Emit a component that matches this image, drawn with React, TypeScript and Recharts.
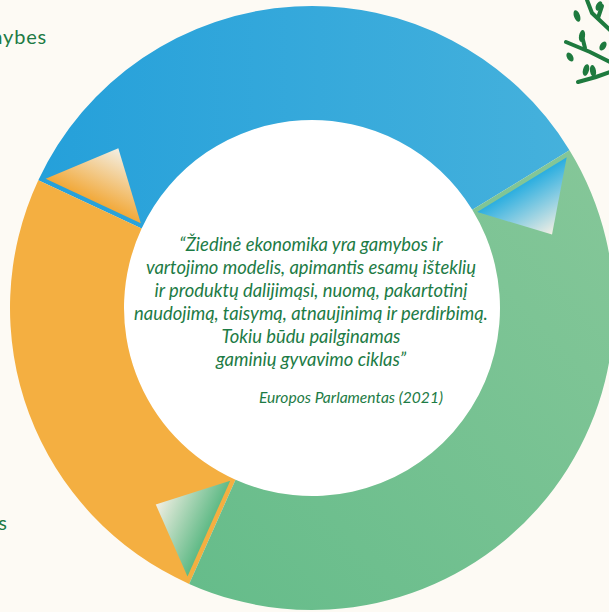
import React from 'react'
import { PieChart, Pie, Cell } from 'recharts'

// Trys žiedo dalys (laipsniais, pagal paveikslėlį)
const segmentNames = ['Gamyba', 'Vartojimas', 'Perdirbimas']
const segmentValues = [123.5, 91, 145.5]
const segmentFills = ['url(#gBlue)', '#F4AF41', 'url(#gGreen)']
// rodyklė dalies gale nudažyta kitos dalies spalva
const arrowColors = ['#F2A93A', '#5FBA86', '#2BAEE0']

const quoteLines = [
  '“Žiedinė ekonomika yra gamybos ir',
  'vartojimo modelis, apimantis esamų išteklių',
  'ir produktų dalijimąsi, nuomą, pakartotinį',
  'naudojimą, taisymą, atnaujinimą ir perdirbimą.',
  'Tokiu būdu pailginamas',
  'gaminių gyvavimo ciklas”',
]
const sourceLine = 'Europos Parlamentas (2021)'
const sideLabels = ['galimybes', 'procesas']

const W = 609
const H = 612
const CX = 312
const CY = 308
const R_IN = 188
const R_OUT = 302
const GREEN_TEXT = '#1D7B45'

const data = segmentNames.map((name, i) => ({ name, value: segmentValues[i] }))

const RAD = Math.PI / 180

// rodyklės trikampis prie kiekvienos dalies pabaigos
const renderArrow = (props: any) => {
  const { cx, cy, endAngle, innerRadius, outerRadius, index } = props
  if (endAngle === undefined) return null
  const b = endAngle * RAD
  const ux = Math.cos(b)
  const uy = -Math.sin(b)
  // statmuo atgal (mažėjančio kampo kryptimi)
  const nx = Math.sin(b)
  const ny = Math.cos(b)
  const d = 4.5
  const r1 = innerRadius + 3
  const r2 = outerRadius - 6
  const rm = (innerRadius + outerRadius) / 2 + 6
  const a = (endAngle - 14.5) * RAD
  const p1 = [cx + r1 * ux + d * nx, cy + r1 * uy + d * ny]
  const p2 = [cx + r2 * ux + d * nx, cy + r2 * uy + d * ny]
  const p3 = [cx + rm * Math.cos(a), cy - rm * Math.sin(a)]
  const mid = [(p1[0] + p2[0]) / 2, (p1[1] + p2[1]) / 2]
  const id = `arrowGrad${index}`
  return (
    <g key={id}>
      <defs>
        <linearGradient id={id} gradientUnits="userSpaceOnUse"
          x1={mid[0]} y1={mid[1]} x2={p3[0]} y2={p3[1]}>
          <stop offset="0%" stopColor={arrowColors[index]} />
          <stop offset="100%" stopColor="#F3EFE4" />
        </linearGradient>
      </defs>
      <polygon
        points={[p1, p2, p3].map(p => p.join(',')).join(' ')}
        fill={`url(#${id})`}
      />
    </g>
  )
}

export default function App() {
  return (
    <div style={{ position: 'absolute', left: 0, top: 0, width: W, height: H, background: '#FDFAF4', overflow: 'hidden' }}>
      <svg width={0} height={0} style={{ position: 'absolute' }}>
        <defs>
          <linearGradient id="gBlue" x1="0" y1="0" x2="1" y2="0">
            <stop offset="0%" stopColor="#25A0DA" />
            <stop offset="100%" stopColor="#45B1DC" />
          </linearGradient>
          <linearGradient id="gGreen" x1="1" y1="0" x2="0" y2="1">
            <stop offset="0%" stopColor="#86C799" />
            <stop offset="100%" stopColor="#65BC8A" />
          </linearGradient>
        </defs>
      </svg>

      <PieChart width={W} height={H} margin={{ top: 0, right: 0, bottom: 0, left: 0 }}>
        <Pie
          data={[{ name: 'centras', value: 1 }]}
          dataKey="value"
          cx={CX}
          cy={CY}
          innerRadius={0}
          outerRadius={R_IN}
          fill="#FFFFFF"
          stroke="none"
          isAnimationActive={false}
        />
        <Pie
          data={data}
          dataKey="value"
          cx={CX}
          cy={CY}
          startAngle={31.5}
          endAngle={391.5}
          innerRadius={R_IN}
          outerRadius={R_OUT}
          stroke="none"
          labelLine={false}
          label={renderArrow}
          isAnimationActive={false}
        >
          {data.map((d, i) => (
            <Cell key={d.name} fill={segmentFills[i]} />
          ))}
        </Pie>
      </PieChart>

      <svg width={W} height={H} style={{ position: 'absolute', left: 0, top: 0, pointerEvents: 'none' }}>
        <g fontFamily="Lato, 'Open Sans', sans-serif" fontStyle="italic" fill={GREEN_TEXT} textAnchor="middle">
          {quoteLines.map((line, i) => (
            <text key={i} x={311} y={251 + i * 23} fontSize={18.4}>{line}</text>
          ))}
          <text x={351} y={403} fontSize={15.6}>{sourceLine}</text>
        </g>
        <g fontFamily="Lato, 'Open Sans', sans-serif" fill={GREEN_TEXT} fontSize={20} textAnchor="end">
          <text x={47} y={44} letterSpacing={0.8}>{sideLabels[0]}</text>
          <text x={7} y={530}>{sideLabels[1]}</text>
        </g>
        {/* medžio logotipas */}
        <g stroke="#1E7A3E" strokeWidth={4} fill="none" strokeLinecap="round">
          <path d="M587,0 L592,13 L610,30" />
          <path d="M566,42 L590,52 L610,62" />
          <path d="M578,82 L596,77 L610,72" />
          <path d="M598,18 L602,6" />
          <path d="M585,48 L582,36" />
        </g>
        <g fill="#1E7A3E">
          <ellipse cx={577} cy={16} rx={3} ry={6} transform="rotate(-20 577 16)" />
          <ellipse cx={599} cy={6} rx={3} ry={5} transform="rotate(25 599 6)" />
          <ellipse cx={582} cy={36} rx={3} ry={6} transform="rotate(10 582 36)" />
          <ellipse cx={570} cy={57} rx={3} ry={5} transform="rotate(-30 570 57)" />
          <ellipse cx={586} cy={70} rx={3} ry={6} transform="rotate(15 586 70)" />
          <ellipse cx={593} cy={71} rx={3} ry={6} transform="rotate(-10 593 71)" />
          <ellipse cx={603} cy={46} rx={3} ry={5} transform="rotate(30 603 46)" />
        </g>
      </svg>
    </div>
  )
}
